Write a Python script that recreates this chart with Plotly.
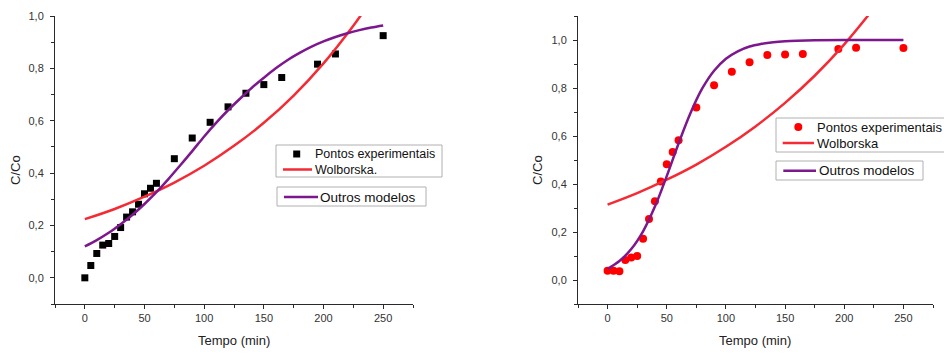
import plotly.graph_objects as go

# ---- Left panel: experimental points (black squares) and fitted curves ----
t_exp_a = [0, 5, 10, 15, 20, 25, 30, 35, 40, 45, 50, 55, 60, 75, 90, 105, 120, 135, 150, 165, 195, 210, 250]
c_exp_a = [0.000, 0.047, 0.093, 0.125, 0.131, 0.158, 0.192, 0.232, 0.252, 0.281, 0.321, 0.342, 0.361,
           0.455, 0.534, 0.594, 0.653, 0.705, 0.738, 0.765, 0.816, 0.855, 0.925]

t_wol_a = [0, 25, 50, 75, 100, 125, 150, 175, 200, 225, 235]
c_wol_a = [0.224, 0.263, 0.310, 0.364, 0.428, 0.504, 0.592, 0.696, 0.819, 0.963, 1.027]

t_out_a = [0, 10, 20, 30, 40, 50, 60, 70, 80, 90, 100, 110, 120, 130, 140, 150, 160, 170, 180,
           190, 200, 210, 220, 230, 240, 250]
c_out_a = [0.120, 0.144, 0.172, 0.205, 0.241, 0.282, 0.327, 0.377, 0.430, 0.484, 0.540, 0.592, 0.640,
           0.684, 0.726, 0.764, 0.800, 0.832, 0.859, 0.883, 0.903, 0.920, 0.934, 0.946, 0.956, 0.964]

# ---- Right panel: experimental points (red circles) and fitted curves ----
t_exp_b = [0, 5, 10, 15, 20, 25, 30, 35, 40, 45, 50, 55, 60, 75, 90, 105, 120, 135, 150, 165, 195, 210, 250]
c_exp_b = [0.039, 0.039, 0.036, 0.083, 0.094, 0.100, 0.172, 0.254, 0.328, 0.410, 0.482, 0.533, 0.582,
           0.719, 0.811, 0.868, 0.907, 0.938, 0.940, 0.942, 0.963, 0.968, 0.967]

t_wol_b = [0, 25, 50, 75, 100, 125, 150, 175, 200, 225]
c_wol_b = [0.314, 0.362, 0.418, 0.481, 0.555, 0.640, 0.738, 0.851, 0.982, 1.132]

t_out_b = [0, 10, 20, 30, 40, 50, 60, 70, 80, 90, 100, 110, 120, 130, 140, 150, 160, 175, 200, 250]
c_out_b = [0.047, 0.079, 0.129, 0.203, 0.306, 0.433, 0.569, 0.695, 0.798, 0.872, 0.922, 0.953, 0.973,
           0.984, 0.991, 0.995, 0.997, 0.9985, 0.9996, 1.000]

x_ticks = [0, 50, 100, 150, 200, 250]
x_minor = [-25, 25, 75, 125, 175, 225, 275]

RED_DOT = "#ff0000"
RED_LINE = "#f42a34"
PURPLE = "#7d178e"
AXIS = "#2a2a2a"
FONT = "Liberation Sans, Arial, sans-serif"

W, H = 944, 354

fig = go.Figure()

# left panel traces
fig.add_trace(go.Scatter(x=t_exp_a, y=c_exp_a, mode="markers", name="Pontos experimentais",
                         marker=dict(symbol="square", size=7, color="black"),
                         xaxis="x", yaxis="y"))
fig.add_trace(go.Scatter(x=t_wol_a, y=c_wol_a, mode="lines", name="Wolborska.",
                         line=dict(color=RED_LINE, width=2.5, shape="spline"),
                         xaxis="x", yaxis="y"))
fig.add_trace(go.Scatter(x=t_out_a, y=c_out_a, mode="lines", name="Outros modelos",
                         line=dict(color=PURPLE, width=2.5, shape="spline"),
                         xaxis="x", yaxis="y"))

# right panel traces
fig.add_trace(go.Scatter(x=t_exp_b, y=c_exp_b, mode="markers", name="Pontos experimentais",
                         marker=dict(symbol="circle", size=8, color=RED_DOT),
                         xaxis="x2", yaxis="y2"))
fig.add_trace(go.Scatter(x=t_wol_b, y=c_wol_b, mode="lines", name="Wolborska",
                         line=dict(color=RED_LINE, width=2.5, shape="spline"),
                         xaxis="x2", yaxis="y2"))
fig.add_trace(go.Scatter(x=t_out_b, y=c_out_b, mode="lines", name="Outros modelos",
                         line=dict(color=PURPLE, width=2.5, shape="spline"),
                         xaxis="x2", yaxis="y2"))


def xaxis_style(domain, anchor):
    return dict(domain=domain, anchor=anchor, range=[-25, 275], showgrid=False, zeroline=False,
                showline=True, linecolor=AXIS, linewidth=1, ticks="outside", ticklen=4,
                tickcolor=AXIS, tickvals=x_ticks, tickfont=dict(size=11, color="#333"),
                minor=dict(tickvals=x_minor, ticks="outside", ticklen=3, tickcolor=AXIS),
                automargin=False, fixedrange=True)


def yaxis_style(domain, anchor, rng, vals, minor_vals):
    return dict(domain=domain, anchor=anchor, range=rng, showgrid=False, zeroline=False,
                showline=True, linecolor=AXIS, linewidth=1, ticks="outside", ticklen=4,
                tickcolor=AXIS, tickvals=vals, tickformat=".1f", ticklabelstandoff=4,
                tickfont=dict(size=11, color="#333"),
                minor=dict(tickvals=minor_vals, ticks="outside", ticklen=3, tickcolor=AXIS),
                automargin=False, fixedrange=True)


y_dom = [1 - 304 / H, 1 - 16 / H]

fig.update_layout(
    width=W, height=H,
    margin=dict(l=0, r=0, t=0, b=0),
    paper_bgcolor="white", plot_bgcolor="white",
    separators=",.",
    font=dict(family=FONT, color="#222"),
    showlegend=False,
    xaxis=xaxis_style([55 / W, 413 / W], "y"),
    yaxis=yaxis_style(y_dom, "x", [-0.1, 1.0], [0, 0.2, 0.4, 0.6, 0.8, 1.0],
                      [-0.1, 0.1, 0.3, 0.5, 0.7, 0.9]),
    xaxis2=xaxis_style([578 / W, 933 / W], "y2"),
    yaxis2=yaxis_style(y_dom, "x2", [-0.1, 1.1], [0, 0.2, 0.4, 0.6, 0.8, 1.0],
                       [-0.1, 0.1, 0.3, 0.5, 0.7, 0.9, 1.1]),
)


# ---- legend boxes, laid out in pixel units and converted to paper fractions ----
def px(x):
    return x / W


def py(y):
    return 1 - y / H


def box(x0, y0, x1, y1):
    fig.add_shape(type="rect", xref="paper", yref="paper",
                  x0=px(x0), x1=px(x1), y0=py(y1), y1=py(y0),
                  line=dict(color="#b0b0b0", width=1), fillcolor="white", layer="above")


def swatch_line(x0, x1, y, color):
    fig.add_shape(type="line", xref="paper", yref="paper",
                  x0=px(x0), x1=px(x1), y0=py(y), y1=py(y),
                  line=dict(color=color, width=2.5), layer="above")


def swatch_marker(cx, cy, size, kind, color):
    r = size / 2
    fig.add_shape(type=kind, xref="paper", yref="paper",
                  x0=px(cx - r), x1=px(cx + r), y0=py(cy + r), y1=py(cy - r),
                  line=dict(color=color, width=0), fillcolor=color, layer="above")


def label(x, y, text, size):
    fig.add_annotation(x=px(x), y=py(y), xref="paper", yref="paper", text=text,
                       showarrow=False, xanchor="left", yanchor="middle",
                       font=dict(size=size, color="#111"))


# left panel legends
box(276, 145, 442, 177)
swatch_marker(296.7, 154, 7, "rect", "black")
label(313, 154, "Pontos experimentais", 12.5)
swatch_line(283, 312, 169.5, RED_LINE)
label(313, 169.5, "Wolborska.", 12.5)

box(277, 187, 426, 206)
swatch_line(284, 318, 197, PURPLE)
label(318, 197, "Outros modelos", 13.5)

# right panel legends
box(776, 118, 960, 152)
swatch_marker(798.3, 127, 8, "circle", RED_DOT)
label(815, 127, "Pontos experimentais", 13)
swatch_line(782.7, 814, 143, RED_LINE)
label(815, 143, "Wolborska", 13)

box(776, 161, 923, 180)
swatch_line(783.3, 816, 170.7, PURPLE)
label(817, 170.7, "Outros modelos", 13.5)

# axis titles
for xc, yc, txt, ang in [
    (15, 170, "C/Co", -90), (537, 170, "C/Co", -90),
    (234, 340, "Tempo (min)", 0), (755, 340, "Tempo (min)", 0),
]:
    fig.add_annotation(x=px(xc), y=py(yc), xref="paper", yref="paper", text=txt,
                       showarrow=False, textangle=ang, font=dict(size=13, color="#222"),
                       xanchor="center", yanchor="middle")

fig.write_html("out.html")
